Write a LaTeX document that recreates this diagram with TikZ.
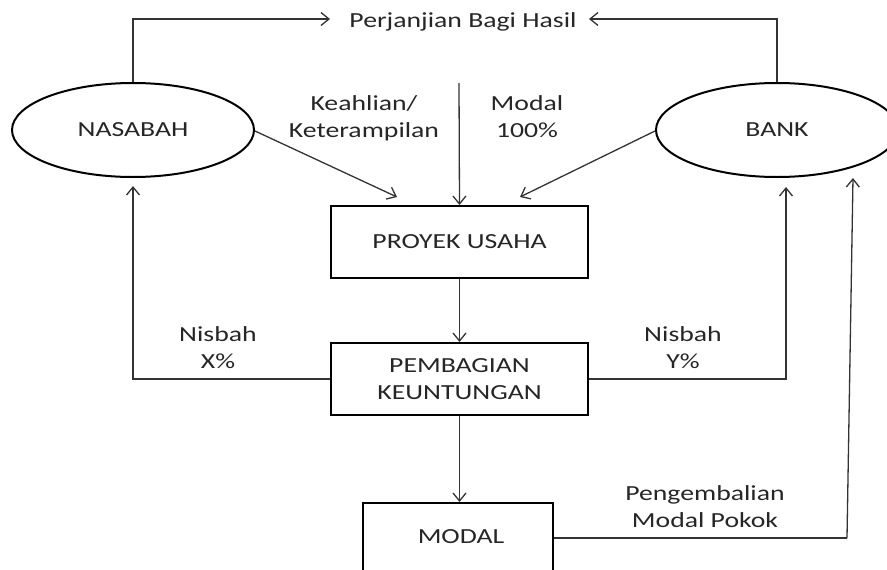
\documentclass[tikz,border=0pt]{standalone}
\usepackage{fontspec}
\setmainfont{Carlito}[FakeStretch=1.29]
\usetikzlibrary{arrows.meta,calc,shapes.geometric}
\begin{document}
\begin{tikzpicture}[x=1pt,y=-1pt,
  every node/.style={font=\fontsize{21.5}{27}\selectfont, text=black!85},
  party/.style={draw=black, line width=2pt, ellipse, minimum width=242, minimum height=94, inner sep=0pt},
  stage/.style={draw=black, line width=2pt, rectangle, minimum width=257, minimum height=72, inner sep=0pt, align=center},
  lbl/.style={align=center, inner sep=0pt},
  flow/.style={draw=black!80, line width=1.3pt, -{Straight Barb[length=8pt,width=13pt,line width=1.3pt]}},
  link/.style={draw=black!80, line width=1.3pt}]
\useasboundingbox (0,0) rectangle (887,570);
\clip (0,0) rectangle (887,570);

% parties
\node[party] (nasabah) at (133,130) {NASABAH};
\node[party] (bank) at (777,130) {BANK};

% process boxes
\node[stage] (proyek) at (459.5,242) {PROYEK USAHA};
\node[stage] (bagi) at (459.5,379) {PEMBAGIAN\\KEUNTUNGAN};
\node[draw=black, line width=2pt, rectangle, minimum width=190, minimum height=120, inner sep=0pt, anchor=north] (modal) at (458,502) {};
\node[lbl] (modaltxt) at (461,537) {MODAL};

% labels
\node[lbl] (perjanjian) at (463,22) {Perjanjian Bagi Hasil};
\node[lbl] (keahlian) at (364,118) {Keahlian/\\Keterampilan};
\node[lbl] (modal100) at (527,117) {Modal\\100\%};
\node[lbl] (nisx) at (218,348) {Nisbah\\X\%};
\node[lbl] (nisy) at (683,348) {Nisbah\\Y\%};
\node[lbl] (kembali) at (705,507) {Pengembalian\\Modal Pokok};

% helper points
\coordinate (pl) at (330,19);
\coordinate (pr) at (589,19);
\coordinate (mtop) at (459,83);
\coordinate (nasout) at (255,131);
\coordinate (nasin) at (397,197);
\coordinate (bankout) at (655,131);
\coordinate (bankin) at (520,197);
\coordinate (xin) at (133,186);
\coordinate (yin) at (786,187);
\coordinate (ret) at (847,538);
\coordinate (retin) at (853,178);

% agreement
\draw[flow] (nasabah.north) |- (pl);
\draw[flow] (bank.north) |- (pr);

% inputs to the project
\draw[flow] (mtop) -- (proyek.north);
\draw[flow] (nasout) -- (nasin);
\draw[flow] (bankout) -- (bankin);

% main flow
\draw[flow] (proyek.south) -- (bagi.north);
\draw[flow] (bagi.south) -- (modal.north -| bagi.south);

% profit shares
\draw[flow] (bagi.west) -| (xin);
\draw[flow] (bagi.east) -| (yin);

% capital return
\draw[link] (modal.east |- ret) -- (ret);
\draw[flow] (ret) -- (retin);
\end{tikzpicture}
\end{document}
